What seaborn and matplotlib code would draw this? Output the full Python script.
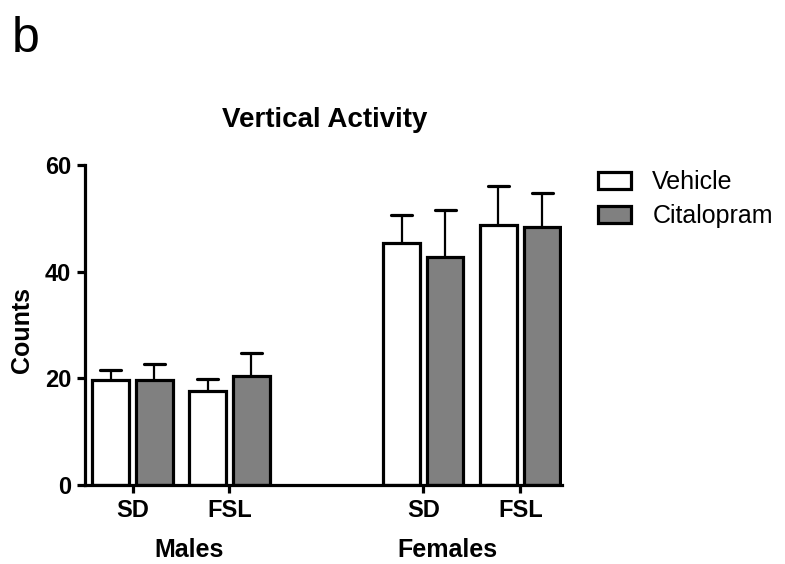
import numpy as np
import pandas as pd
import seaborn as sns
import matplotlib.pyplot as plt
from matplotlib.patches import Patch

sex = ["Males", "Males", "Males", "Males", "Females", "Females", "Females", "Females"]
strain = ["SD", "SD", "FSL", "FSL", "SD", "SD", "FSL", "FSL"]
treatment = ["Vehicle", "Citalopram"] * 4
counts_mean = [19.7, 19.6, 17.7, 20.4, 45.4, 42.7, 48.8, 48.4]
counts_sem = [1.9, 3.0, 2.2, 4.4, 5.3, 8.9, 7.3, 6.4]

group_order = ["Males SD", "Males FSL", "", "Females SD", "Females FSL"]
tick_labels = ["SD", "FSL", "SD", "FSL"]
hue_order = ["Vehicle", "Citalopram"]
palette = {"Vehicle": "white", "Citalopram": "#808080"}

df = pd.DataFrame({
    "group": [f"{s} {st}" for s, st in zip(sex, strain)],
    "treatment": treatment,
    "mean": counts_mean,
    "sem": counts_sem,
})

sns.set_style("ticks")
plt.rcParams["font.family"] = ["Liberation Sans", "DejaVu Sans"]
plt.rcParams.update({"text.color": "black", "axes.edgecolor": "black",
                     "xtick.color": "black", "ytick.color": "black",
                     "axes.labelcolor": "black"})

fig = plt.figure(figsize=(7.85, 5.64), dpi=100)
ax = fig.add_axes([85 / 785, 1 - 485 / 564, 477 / 785, 320 / 564])

sns.barplot(
    data=df, x="group", y="mean", hue="treatment",
    order=group_order, hue_order=hue_order, palette=palette,
    width=0.9, gap=0.16, errorbar=None,
    edgecolor="black", linewidth=2.3, legend=False, ax=ax,
)

# upper-only error bars, placed from the drawn bars
sem_lookup = {(g, t): s for g, t, s in zip(df["group"], df["treatment"], df["sem"])}
for level, container in zip(hue_order, ax.containers):
    for bar in container:
        xc = bar.get_x() + bar.get_width() / 2
        top = bar.get_height()
        grp = group_order[int(round(xc))]
        err = sem_lookup[(grp, level)]
        ax.vlines(xc, top, top + err, color="black", lw=1.6, zorder=0.5)
        ax.hlines(top + err, xc - 0.108, xc + 0.108, color="black", lw=2.3,
                  capstyle="round", zorder=0.5)

ax.set_xlim(-0.49, 4.43)
ax.set_ylim(0, 60)
ax.set_yticks([0, 20, 40, 60])
ax.set_xticks([0, 1, 3, 4])
ax.set_xticklabels(tick_labels)
ax.set_xlabel("")
ax.set_ylabel("")
sns.despine(ax=ax)
for side in ["left", "bottom"]:
    ax.spines[side].set_linewidth(2.3)
ax.tick_params(axis="both", length=6, width=2.3, labelsize=17, pad=4)
for lab in ax.get_xticklabels() + ax.get_yticklabels():
    lab.set_fontweight("bold")

fig.text(12 / 785, 1 - 52 / 564, "b", fontsize=36, va="baseline", ha="left")
fig.text(325 / 785, 1 - 127 / 564, "Vertical Activity", fontsize=20,
         fontweight="bold", ha="center", va="baseline")
fig.text(22 / 785, 1 - 330 / 564, "Counts", fontsize=18, fontweight="bold",
         rotation=90, ha="center", va="center")
fig.text(189 / 785, 1 - 557 / 564, "Males", fontsize=18, fontweight="bold",
         ha="center", va="baseline")
fig.text(447 / 785, 1 - 557 / 564, "Females", fontsize=18, fontweight="bold",
         ha="center", va="baseline")

handles = [Patch(facecolor=palette[t], edgecolor="black", linewidth=2.3, label=t)
           for t in hue_order]
fig.legend(handles=handles, loc="upper left", bbox_to_anchor=(598 / 785, 1 - 170 / 564),
           frameon=False, fontsize=18, handlelength=1.32, handleheight=0.68,
           handletextpad=0.85, labelspacing=0.42, borderpad=0, borderaxespad=0)

fig.savefig("out.png", dpi=100)
